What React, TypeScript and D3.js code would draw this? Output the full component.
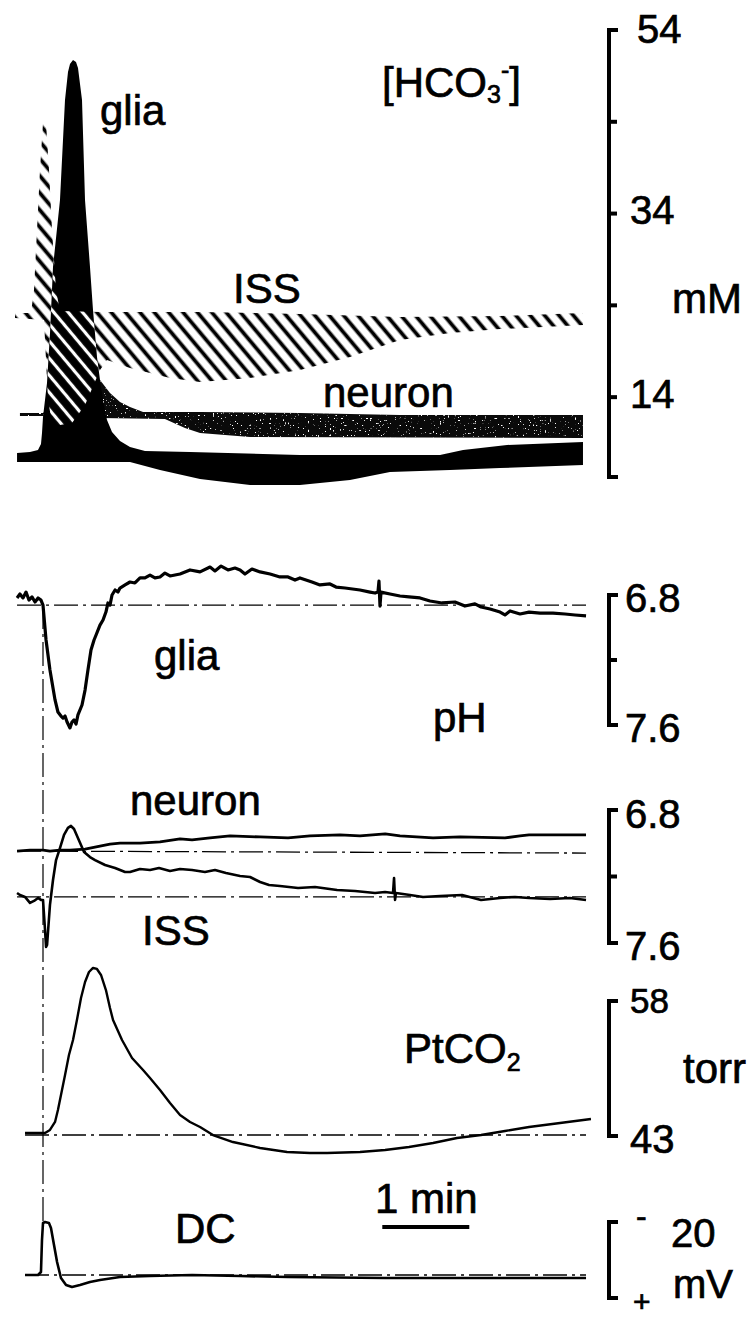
import React from 'react';
import * as d3 from 'd3';

type P = [number, number];

// time in s from stimulus onset, value in panel units
// [HCO3-] bands (mM): upper / lower edges
const gliaHcoUpper: P[] = [
  [-17.9, 7.91], [-9, 8.02], [-3.45, 8.24], [-1.38, 8.9], [-0.69, 10.09], [0, 11.84], [2.76, 15.54],
  [4.83, 20.99], [6.9, 28.18], [11.72, 35.48], [15.17, 46.37], [17.24, 49.42], [18.62, 50.3],
  [20.69, 50.73], [22.76, 50.51], [24.14, 49.86], [26.9, 46.37], [28.97, 35.48], [32.41, 28.18],
  [34.48, 23.49], [37.24, 18.37], [39.31, 15.87], [41.38, 13.69], [44.14, 11.51], [47.59, 10.2],
  [53.1, 9.22], [60, 8.57], [70.34, 8.13], [101.4, 8.02], [177.2, 7.7], [273.8, 7.7],
  [289.7, 8.24], [320, 8.79], [372.4, 9.11],
];
const gliaHcoLower: P[] = [
  [-17.9, 6.93], [60, 6.93], [80.7, 6.06], [108.3, 5.08], [142.8, 4.43], [177.2, 4.43],
  [211.7, 4.97], [239.3, 5.84], [280.7, 6.06], [315.2, 6.28], [372.4, 6.61],
];
const neuronHcoUpper: P[] = [
  [-15.9, 12.27], [0, 12.27], [11.72, 13.69], [25.5, 15.32], [39.31, 15.87], [46.2, 14.45],
  [53.1, 13.47], [60, 12.93], [69, 12.38], [108.3, 12.38], [177.2, 12.27], [246.2, 12.05], [372.4, 12.05],
];
const neuronHcoLower: P[] = [
  [-15.9, 11.95], [0, 11.95], [39.31, 11.73], [84.1, 11.62], [97.9, 10.64], [108.3, 10.09],
  [142.8, 9.66], [372.4, 9.55],
];
const issHcoUpper: P[] = [
  [-19.3, 23.17], [-8.28, 23.17], [-6.21, 25.67], [-4.14, 32.21], [-2.07, 38.75], [0, 43.87],
  [2.07, 43.87], [4.14, 38.75], [6.21, 32.21], [8.97, 25.67], [11.72, 23.39], [39.31, 23.28],
  [108.3, 23.28], [177.2, 23.06], [246.2, 22.73], [315.2, 22.84], [372.4, 23.17],
];
const issHcoLower: P[] = [
  [-19.3, 22.62], [0.69, 22.4], [3.45, 13.69], [6.21, 11.18], [11.72, 10.97], [20, 11.18],
  [28.97, 13.14], [39.31, 16.96], [44.14, 18.05], [60, 17.18], [87.6, 16.09], [108.3, 15.65],
  [142.8, 16.09], [177.2, 16.96], [211.7, 18.37], [246.2, 20.23], [280.7, 20.99], [315.2, 21.42],
  [372.4, 21.86],
];

// pH traces
const gliaPh: P[] = [
  [-17.9, 6.818], [-15.9, 6.794], [-13.8, 6.818], [-11.7, 6.782], [-9.7, 6.831], [-7.6, 6.812],
  [-5.5, 6.843], [-3.4, 6.818], [-1.4, 6.831], [0, 6.862], [2.1, 7.077], [4.8, 7.262], [8.3, 7.446],
  [10.3, 7.52], [12.4, 7.545], [13.8, 7.557], [15.2, 7.545], [16.6, 7.582], [18.6, 7.618], [20, 7.582],
  [21.4, 7.569], [22.8, 7.594], [24.1, 7.538], [26.9, 7.477], [29, 7.385], [31, 7.262], [33.1, 7.138],
  [35.2, 7.077], [36.6, 7.046], [39.3, 6.985], [41.4, 6.954], [43.4, 6.905], [44.8, 6.849],
  [46.2, 6.862], [47.6, 6.8], [49.7, 6.769], [51.7, 6.782], [53.1, 6.757], [56.6, 6.738], [60, 6.72],
  [63.4, 6.726], [66.9, 6.695], [70.3, 6.695], [73.8, 6.677], [77.2, 6.695], [80.7, 6.689],
  [84.1, 6.665], [87.6, 6.683], [94.5, 6.671], [101.4, 6.646], [108.3, 6.658], [115.2, 6.628],
  [118.6, 6.652], [122.8, 6.622], [127.6, 6.646], [132.4, 6.634], [135.9, 6.646], [139.3, 6.671],
  [144.1, 6.64], [149.7, 6.658], [156.6, 6.671], [163.4, 6.689], [169, 6.689], [173.8, 6.708],
  [177.2, 6.695], [185.5, 6.72], [191, 6.738], [197.9, 6.732], [202.1, 6.751], [208.3, 6.757],
  [218.6, 6.769], [225.5, 6.782], [229, 6.788], [231, 6.782], [231.7, 6.714], [232.4, 6.868],
  [233.1, 6.782], [239.3, 6.794], [246.2, 6.806], [252.4, 6.812], [260, 6.818], [266.9, 6.837],
  [275.2, 6.849], [284.1, 6.843], [291, 6.868], [297.9, 6.855], [302.1, 6.874], [308.3, 6.886],
  [315.2, 6.905], [318.6, 6.923], [322.1, 6.898], [329, 6.917], [335.2, 6.905], [342.8, 6.911],
  [351.7, 6.911], [360, 6.917], [366.9, 6.923], [374.5, 6.929],
];
const gliaPhBase = 6.862;

const neuronPh: P[] = [
  [-17.9, 7.047], [-9, 7.041], [0, 7.041], [4.8, 7.047], [11.7, 7.041], [18.6, 7.041], [29, 7.035],
  [39.3, 7.017], [46.2, 7.005], [53.1, 6.999], [66.9, 6.999], [80.7, 6.992], [94.5, 6.974],
  [102.8, 6.98], [115.2, 6.968], [129, 6.956], [149.7, 6.962], [169, 6.968], [184.1, 6.956],
  [204.8, 6.95], [218.6, 6.956], [236, 6.944], [246.2, 6.956], [269, 6.968], [287.6, 6.962],
  [318.6, 6.968], [329, 6.956], [335.2, 6.95], [349.7, 6.95], [374.5, 6.95],
];
const neuronPhBase: P[] = [[-17.9, 7.047], [374.5, 7.059]];

const issPh: P[] = [
  [-17.9, 7.299], [-15.9, 7.311], [-12.4, 7.323], [-9, 7.359], [-6.2, 7.347], [-3.4, 7.329],
  [-1.4, 7.341], [0, 7.341], [1.4, 7.522], [2.1, 7.624], [2.8, 7.612], [4.8, 7.371], [6.9, 7.221],
  [9, 7.101], [11.7, 7.029], [14.5, 6.95], [17.2, 6.908], [19.3, 6.896], [21.4, 6.914], [24.1, 6.968],
  [28.3, 7.053], [32.4, 7.083], [35.9, 7.101], [42.8, 7.131], [49.7, 7.149], [56.6, 7.173],
  [60, 7.173], [66.9, 7.155], [73.8, 7.161], [80, 7.149], [87.6, 7.167], [94.5, 7.155],
  [102.8, 7.161], [111.7, 7.173], [118.6, 7.161], [126.2, 7.179], [135.9, 7.197], [142.8, 7.203],
  [149.7, 7.233], [155.9, 7.251], [163.4, 7.257], [175.9, 7.269], [187.6, 7.263], [202.8, 7.281],
  [215.2, 7.287], [229, 7.299], [235.9, 7.293], [241.4, 7.299], [242.1, 7.209], [242.8, 7.341],
  [243.4, 7.299], [253.1, 7.311], [262.1, 7.323], [273.8, 7.317], [289, 7.311], [302.1, 7.341],
  [315.2, 7.329], [325.5, 7.323], [335.2, 7.329], [349.7, 7.335], [363.4, 7.329], [374.5, 7.341],
];
const issPhBase = 7.323;

// PtCO2 (torr)
const pco2: P[] = [
  [-12.4, 43.33], [1.4, 43.33], [4.8, 43.67], [8.3, 44.56], [10.3, 45.89], [12.4, 47.56],
  [15.2, 49.78], [17.9, 52.0], [20.7, 53.67], [23.4, 55.89], [26.2, 58.33], [29, 60.11],
  [31.7, 61.22], [34.5, 61.67], [37.2, 61.56], [40, 60.89], [43.4, 59.22], [46.2, 57.22],
  [48.3, 55.89], [54.5, 53.67], [61.4, 51.67], [69, 50.33], [73.8, 49.44], [80.7, 48.11],
  [87.6, 46.67], [94.5, 45.33], [101.4, 44.56], [108.3, 44.0], [117.2, 43.11], [131, 42.33],
  [149.7, 41.67], [168.3, 41.22], [184.1, 41.11], [195.9, 41.11], [218.6, 41.22], [235.9, 41.44],
  [252.4, 41.78], [269, 42.22], [285.5, 42.78], [302.1, 43.11], [318.6, 43.56], [335.2, 44.0],
  [356.6, 44.44], [377.9, 44.89],
];
const pco2Base = 43.11;

// DC potential (mV, relative to bracket bottom)
const dc: P[] = [
  [-12.4, 6.05], [-3.4, 6.05], [-1.4, 6.84], [-0.7, 15.26], [0, 19.74], [1.4, 20.0], [4.1, 19.74],
  [5.5, 18.42], [7.6, 13.95], [9.7, 9.47], [12.4, 5.26], [15.9, 3.42], [20, 2.89], [25.5, 3.42],
  [32.4, 4.21], [39.3, 4.74], [53.1, 5.53], [73.8, 5.79], [102.8, 6.05], [135.9, 5.79], [169, 5.53],
  [235.9, 5.26], [302.1, 5.26], [374.5, 5.26],
];
const dcBase = 6.05;

const tStart = -17.9;
const tEnd = 374.5;
const scaleBar: [number, number] = [234, 294];

const hcoTicks = [44, 34, 24, 14];
const hcoLabels = ['54', '34', '14'];
const phLabels = ['6.8', '7.6'];
const co2Labels = ['58', '43'];

const FONT = '"Liberation Sans", Arial, Helvetica, sans-serif';

const x = d3.scaleLinear().domain([0, 60]).range([43, 130]);
const yHco = d3.scaleLinear().domain([5.3, 54]).range([477, 30]);
const yPhGlia = d3.scaleLinear().domain([6.8, 7.6]).range([595, 725]);
const yPhNeu = d3.scaleLinear().domain([6.8, 7.6]).range([810, 943]);
const yCo2 = d3.scaleLinear().domain([43, 58]).range([1136, 1001]);
const yDc = d3.scaleLinear().domain([0, 20]).range([1298, 1222]);

const AX = 609;

function lineFor(y: d3.ScaleLinear<number, number>) {
  return d3.line<P>().x(d => x(d[0])).y(d => y(d[1]));
}

function bandPath(up: P[], lo: P[]) {
  const l = lineFor(yHco);
  return (l([...up, ...lo.slice().reverse()]) || '') + 'Z';
}

function Bracket({ y, lo, hi, ticks = [] }: { y: d3.ScaleLinear<number, number>; lo: number; hi: number; ticks?: number[] }) {
  const y0 = y(hi), y1 = y(lo);
  return (
    <g stroke="#000" fill="none" strokeWidth={4}>
      <path d={`M${AX + 9},${y0}H${AX}V${y1}H${AX + 9}`} strokeLinejoin="miter" />
      {ticks.map(t => (
        <line key={t} x1={AX} x2={AX + 8} y1={y(t)} y2={y(t)} />
      ))}
    </g>
  );
}

function Txt({ x: tx, y: ty, size = 42, children }: { x: number; y: number; size?: number; children: React.ReactNode }) {
  return (
    <text x={tx} y={ty} fontSize={size} fontFamily={FONT} fill="#000" stroke="#000" strokeWidth={0.7}>
      {children}
    </text>
  );
}

export default function App() {
  const gliaD = bandPath(gliaHcoUpper, gliaHcoLower);
  const neuD = bandPath(neuronHcoUpper, neuronHcoLower);
  const issD = bandPath(issHcoUpper, issHcoLower);

  const dash = '24 5 3 5';
  const baseLine = (y: d3.ScaleLinear<number, number>, v: number, t0 = tStart) => (
    <line x1={x(t0)} x2={x(tEnd)} y1={y(v)} y2={y(v)} stroke="#000" strokeWidth={1.3} strokeDasharray={dash} />
  );

  return (
    <svg width={749} height={1317} style={{ position: 'absolute', left: 0, top: 0, background: '#fff' }}>
      <defs>
        <pattern id="hatchB" patternUnits="userSpaceOnUse" width={11} height={11} patternTransform="rotate(-40)">
          <line x1={5.5} y1={-1} x2={5.5} y2={12} stroke="#000" strokeWidth={3.8} />
        </pattern>
        <pattern id="hatchW" patternUnits="userSpaceOnUse" width={11} height={11} patternTransform="rotate(-40)">
          <line x1={5.5} y1={-1} x2={5.5} y2={12} stroke="#fff" strokeWidth={3.2} />
        </pattern>
        <clipPath id="gliaClip">
          <path d={gliaD} />
        </clipPath>
        <filter id="speck" x="0" y="0" width="1" height="1" colorInterpolationFilters="sRGB">
          <feTurbulence type="fractalNoise" baseFrequency="0.6" numOctaves={1} seed={4} result="n" />
          <feColorMatrix in="n" type="matrix" values="0 0 0 0 1  0 0 0 0 1  0 0 0 0 1  16 0 0 0 -10.6" result="s" />
          <feComposite in="s" in2="SourceGraphic" operator="in" />
        </filter>
      </defs>
      <rect width={749} height={1317} fill="#fff" />

      {/* [HCO3-] panel */}
      <path d={neuD} fill="#0a0a0a" />
      <path d={neuD} fill="#000" filter="url(#speck)" />
      <path d={gliaD} fill="#000" />
      <path d={issD} fill="url(#hatchB)" />
      <path d={issD} fill="url(#hatchW)" clipPath="url(#gliaClip)" />
      <Bracket y={yHco} lo={5.3} hi={54} ticks={hcoTicks} />
      <Txt x={100} y={125}>glia</Txt>
      <Txt x={382} y={97}>
        [HCO<tspan fontSize={25} dy={6}>3</tspan>
        <tspan fontSize={25} dy={-24}>-</tspan>
        <tspan dy={18}>]</tspan>
      </Txt>
      <Txt x={233} y={303}>ISS</Txt>
      <Txt x={323} y={407}>neuron</Txt>
      <Txt x={637} y={yHco(54) + 13} size={40}>{hcoLabels[0]}</Txt>
      <Txt x={630} y={yHco(34) + 10} size={40}>{hcoLabels[1]}</Txt>
      <Txt x={630} y={yHco(14) + 11} size={40}>{hcoLabels[2]}</Txt>
      <Txt x={672} y={313}>mM</Txt>

      {/* glia pH */}
      {baseLine(yPhGlia, gliaPhBase)}
      <path d={lineFor(yPhGlia)(gliaPh) || ''} fill="none" stroke="#000" strokeWidth={3.2} strokeLinejoin="round" />
      <Bracket y={yPhGlia} lo={7.6} hi={6.8} ticks={[7.2]} />
      <Txt x={154} y={670}>glia</Txt>
      <Txt x={433} y={732}>pH</Txt>
      <Txt x={625} y={yPhGlia(6.8) + 17} size={40}>{phLabels[0]}</Txt>
      <Txt x={625} y={yPhGlia(7.6) + 17} size={40}>{phLabels[1]}</Txt>

      {/* neuron / ISS pH */}
      <path d={lineFor(yPhNeu)(neuronPhBase) || ''} fill="none" stroke="#000" strokeWidth={1.3} strokeDasharray={dash} />
      {baseLine(yPhNeu, issPhBase)}
      <path d={lineFor(yPhNeu)(neuronPh) || ''} fill="none" stroke="#000" strokeWidth={2.8} strokeLinejoin="round" />
      <path d={lineFor(yPhNeu)(issPh) || ''} fill="none" stroke="#000" strokeWidth={2.6} strokeLinejoin="round" />
      <Bracket y={yPhNeu} lo={7.6} hi={6.8} ticks={[7.2]} />
      <Txt x={130} y={815}>neuron</Txt>
      <Txt x={142} y={945}>ISS</Txt>
      <Txt x={625} y={yPhNeu(6.8) + 18} size={40}>{phLabels[0]}</Txt>
      <Txt x={625} y={yPhNeu(7.6) + 17} size={40}>{phLabels[1]}</Txt>

      {/* PtCO2 */}
      {baseLine(yCo2, pco2Base, -12.4)}
      <path d={lineFor(yCo2)(pco2) || ''} fill="none" stroke="#000" strokeWidth={2.4} strokeLinejoin="round" />
      <Bracket y={yCo2} lo={43} hi={58} />
      <Txt x={404} y={1063}>
        PtCO<tspan fontSize={25} dy={8}>2</tspan>
      </Txt>
      <Txt x={683} y={1083}>torr</Txt>
      <Txt x={630} y={yCo2(58) + 12} size={35}>{co2Labels[0]}</Txt>
      <Txt x={630} y={yCo2(43) + 17} size={40}>{co2Labels[1]}</Txt>

      {/* stimulus marker */}
      <line x1={x(0)} x2={x(0)} y1={yPhGlia(gliaPhBase)} y2={yDc(19.5)} stroke="#000" strokeWidth={1.2} strokeDasharray={dash} />

      {/* DC */}
      {baseLine(yDc, dcBase, -12.4)}
      <path d={lineFor(yDc)(dc) || ''} fill="none" stroke="#000" strokeWidth={2.6} strokeLinejoin="round" />
      <Bracket y={yDc} lo={0} hi={20} />
      <Txt x={175} y={1243}>DC</Txt>
      <Txt x={375} y={1213}>1 min</Txt>
      <line x1={x(scaleBar[0])} x2={x(scaleBar[1])} y1={1227} y2={1227} stroke="#000" strokeWidth={4} />
      <Txt x={636} y={1227} size={32}>-</Txt>
      <Txt x={671} y={1247} size={40}>20</Txt>
      <Txt x={633} y={1312} size={30}>+</Txt>
      <Txt x={673} y={1298} size={40}>mV</Txt>
    </svg>
  );
}
